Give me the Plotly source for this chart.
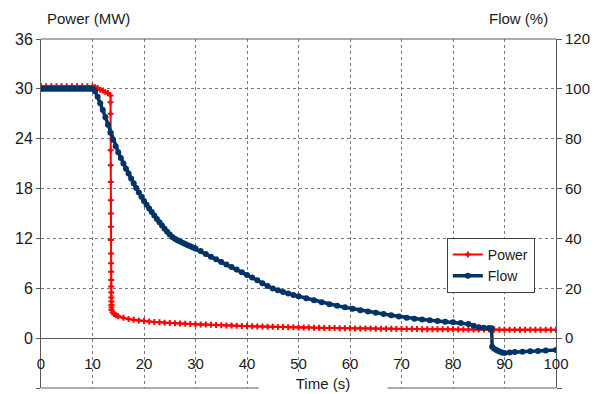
import plotly.graph_objects as go

# Reactor power after trip (MW) vs time (s)
power_t = [0, 1, 2, 3, 4, 5, 6, 7, 8, 9, 10, 10.5, 11, 11.5, 12, 12.5, 13, 13.5,
           13.50, 13.51, 13.52, 13.53, 13.54, 13.55, 13.56, 13.57, 13.58, 13.59,
           13.60, 13.61, 13.62, 13.63, 13.64, 13.65, 13.66, 13.67, 13.68, 13.69, 13.70,
           13.9, 14.2, 14.6,
           15, 16, 17, 18, 19, 20, 21, 22, 23, 24, 25, 26, 27, 28, 29, 30,
           31, 32, 33, 34, 35, 36, 37, 38, 39, 40, 41, 42, 43, 44, 45, 46, 47, 48, 49, 50,
           51, 52, 53, 54, 55, 56, 57, 58, 59, 60, 61, 62, 63, 64, 65, 66, 67, 68, 69, 70,
           71, 72, 73, 74, 75, 76, 77, 78, 79, 80, 81, 82, 83, 84, 85, 86, 87, 88, 89, 90,
           91, 92, 93, 94, 95, 96, 97, 98, 99, 100]
power_mw = [30.3, 30.3, 30.3, 30.3, 30.3, 30.3, 30.3, 30.3, 30.3, 30.3, 30.3, 30.2, 30.1, 29.9, 29.8, 29.6, 29.5, 29.2,
            28.4, 27.0, 24.8, 22.6, 20.8, 18.8, 16.6, 15.0, 13.4, 11.8,
            10.2, 9.0, 8.0, 7.0, 6.2, 5.5, 4.9, 4.4, 4.0, 3.7, 3.4,
            3.1, 2.9, 2.75,
            2.62, 2.44, 2.31, 2.20, 2.12, 2.06, 2.00, 1.95, 1.90, 1.86, 1.82, 1.79, 1.76, 1.73, 1.70, 1.68,
            1.65, 1.63, 1.60, 1.58, 1.55, 1.53, 1.51, 1.49, 1.47, 1.45, 1.43, 1.41, 1.40, 1.38, 1.36, 1.35, 1.34, 1.32, 1.30, 1.29,
            1.28, 1.27, 1.25, 1.24, 1.23, 1.22, 1.21, 1.20, 1.19, 1.18, 1.17, 1.16, 1.16, 1.15, 1.14, 1.13, 1.13, 1.12, 1.11, 1.10,
            1.10, 1.09, 1.09, 1.08, 1.08, 1.07, 1.07, 1.07, 1.06, 1.06, 1.05, 1.05, 1.05, 1.04, 1.04, 1.04, 1.03, 1.03, 1.02, 1.02,
            1.02, 1.01, 1.01, 1.01, 1.00, 1.00, 1.00, 1.00, 1.00, 1.00]

# Coolant flow (% of nominal) vs time (s)
flow_t = [0, 0.5, 1, 1.5, 2, 2.5, 3, 3.5, 4, 4.5, 5, 5.5, 6, 6.5, 7, 7.5, 8, 8.5, 9, 9.5, 10,
          10.5, 11, 11.5, 12, 12.5, 13, 13.5, 14, 14.5, 15, 15.5, 16, 16.5, 17, 17.5, 18, 18.5, 19, 19.5, 20,
          20.5, 21, 21.5, 22, 22.5, 23, 23.5, 24, 24.5, 25, 25.5, 26, 26.5, 27, 27.5, 28, 28.5, 29, 29.5, 30,
          31, 32, 33, 34, 35, 36, 37, 38, 39, 40, 41, 42, 43, 44, 45, 46, 47, 48, 49, 50,
          51.5, 53, 54.5, 56, 57.5, 59, 60.5, 62, 63.5, 65, 66.5, 68, 69.5, 71, 72.5, 74, 75.5, 77, 78.5, 80,
          81.5, 83, 84, 85, 86, 87, 87.5, 87.6, 88, 88.5, 89, 89.5, 90,
          91, 92, 93.5, 95, 96.5, 98, 100]
flow_pct = [100, 100, 100, 100, 100, 100, 100, 100, 100, 100, 100, 100, 100, 100, 100, 100, 100, 100, 100, 100, 100,
            99.0, 96.8, 94.2, 91.5, 88.6, 85.6, 82.4, 79.6, 77.0, 74.6, 72.3, 70.1, 68.0, 66.0, 64.0, 62.1, 60.2, 58.4, 56.7, 55.0,
            53.5, 52.0, 50.6, 49.2, 47.8, 46.5, 45.2, 43.9, 42.7, 41.6, 40.6, 39.9, 39.3, 38.8, 38.3, 37.8, 37.3, 36.9, 36.4, 36.0,
            35.0, 33.8, 32.7, 31.6, 30.5, 29.5, 28.5, 27.5, 26.4, 25.3, 24.3, 23.2, 22.0, 20.9, 19.9, 19.2, 18.5, 17.9, 17.3, 16.8,
            16.0, 15.2, 14.4, 13.6, 13.0, 12.4, 11.8, 11.2, 10.7, 10.2, 9.7, 9.2, 8.7, 8.2, 7.8, 7.5, 7.2, 6.9, 6.6, 6.4,
            6.1, 5.7, 5.0, 4.4, 4.2, 4.1, 4.0, -3.5, -4.3, -4.9, -5.4, -5.8, -6.0,
            -5.8, -5.6, -5.5, -5.3, -5.2, -5.0, -4.8]

time_ticks = [0, 10, 20, 30, 40, 50, 60, 70, 80, 90, 100]
power_ticks = [-6, 0, 6, 12, 18, 24, 30, 36]
flow_ticks = [-20, 0, 20, 40, 60, 80, 100, 120]

FONT = "Liberation Sans"
TXT = "#1a1a1a"
AX = "#595959"
GRID = "#7a7a7a"

fig = go.Figure()
fig.add_trace(go.Scatter(
    x=power_t, y=power_mw, name="Power", mode="lines+markers",
    line=dict(color="#ff0000", width=2),
    marker=dict(symbol="cross", size=5, color="#ff0000"),
))
fig.add_trace(go.Scatter(
    x=flow_t, y=flow_pct, name="Flow", mode="lines+markers", yaxis="y2",
    line=dict(color="#003366", width=3.5),
    marker=dict(symbol="circle", size=6, color="#003366"),
))

fig.update_layout(
    width=598, height=394,
    margin=dict(l=41, r=42, t=39, b=6),
    paper_bgcolor="white", plot_bgcolor="white",
    font=dict(family=FONT, size=15, color=TXT),
    xaxis=dict(
        range=[0, 100], tickvals=time_ticks, ticktext=[str(v) for v in time_ticks],
        anchor="free", position=6 / 42,
        showline=True, linecolor=AX, linewidth=1,
        showgrid=True, gridcolor=GRID, griddash="dot", gridwidth=1,
        zeroline=False, ticks="", ticklabelstandoff=12,
        tickfont=dict(family=FONT, size=15, color=TXT),
    ),
    yaxis=dict(
        range=[-6, 36], tickvals=power_ticks, ticktext=[str(v) for v in power_ticks],
        showline=True, linecolor=AX, linewidth=1,
        ticks="outside", ticklen=4, tickcolor=AX,
        showgrid=True, gridcolor=GRID, griddash="dot", gridwidth=1,
        zeroline=False,
        tickfont=dict(family=FONT, size=16, color=TXT),
    ),
    yaxis2=dict(
        range=[-20, 120], tickvals=flow_ticks, ticktext=[str(v) for v in flow_ticks],
        overlaying="y", side="right",
        showline=True, linecolor=AX, linewidth=1,
        ticks="outside", ticklen=5, tickcolor=AX,
        showgrid=False, zeroline=False,
        tickfont=dict(family=FONT, size=15, color=TXT),
    ),
    legend=dict(
        x=0.788, y=0.43, xanchor="left", yanchor="top",
        bgcolor="white", bordercolor="#404040", borderwidth=1,
        font=dict(family=FONT, size=14, color=TXT),
        itemwidth=30, tracegroupgap=0,
    ),
    showlegend=True,
)

# top and bottom frame lines of the plot area
fig.add_shape(type="line", xref="paper", yref="paper", x0=0, x1=1, y0=1, y1=1,
              line=dict(color=AX, width=1))
fig.add_shape(type="line", xref="paper", yref="paper", x0=0, x1=1, y0=0, y1=0,
              line=dict(color=AX, width=1))

fig.add_annotation(text="Power (MW)", xref="paper", yref="paper", x=0.008, y=1.06,
                   xanchor="left", yanchor="middle", showarrow=False,
                   font=dict(family=FONT, size=15, color=TXT))
fig.add_annotation(text="Flow (%)", xref="paper", yref="paper", x=0.9876, y=1.06,
                   xanchor="right", yanchor="middle", showarrow=False,
                   font=dict(family=FONT, size=15, color=TXT))
fig.add_annotation(text="Time (s)", xref="paper", yref="paper", x=0.548, y=0.0143,
                   xanchor="center", yanchor="middle", showarrow=False,
                   width=128, height=20, borderpad=0, bgcolor="white",
                   font=dict(family=FONT, size=15, color=TXT))

fig.write_html("out.html")
